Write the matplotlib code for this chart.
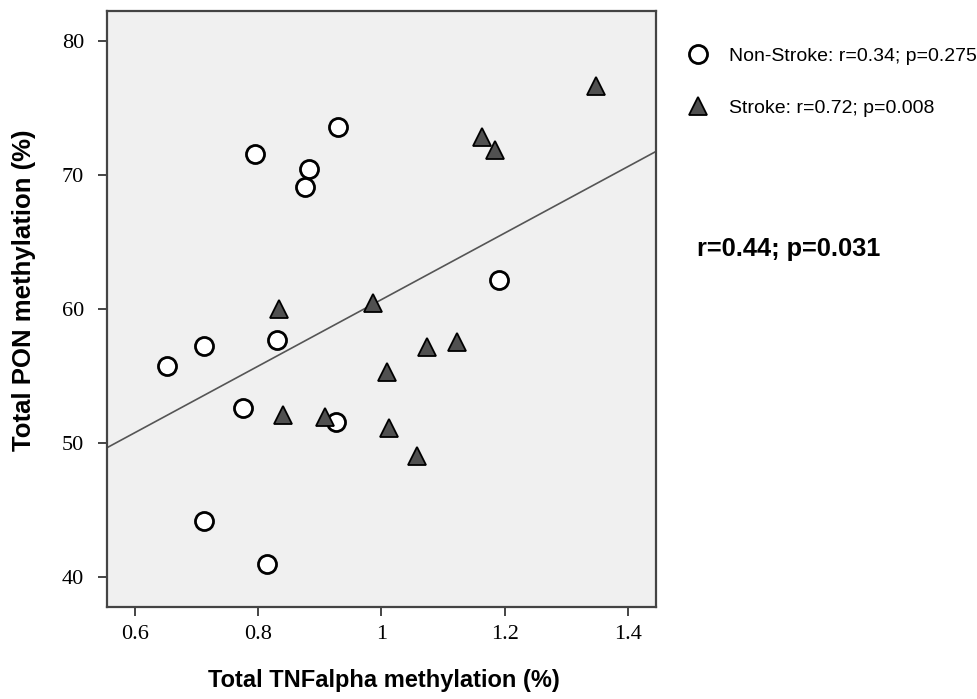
import numpy as np
import matplotlib
matplotlib.use("Agg")
import matplotlib.pyplot as plt

# values
nonstroke_x = [0.653, 0.712, 0.795, 0.882, 0.876, 0.930, 0.830, 0.776, 0.927, 0.712, 0.814, 1.190]
nonstroke_y = [55.72, 57.24, 71.54, 70.40, 69.10, 73.58, 57.66, 52.57, 51.57, 44.16, 40.95, 62.14]
stroke_x = [1.348, 1.164, 1.184, 0.834, 0.987, 1.123, 1.074, 1.009, 0.840, 0.908, 1.012, 1.057]
stroke_y = [76.62, 72.79, 71.84, 59.96, 60.45, 57.54, 57.12, 55.30, 52.07, 51.94, 51.12, 49.03]

x_ticks = [0.6, 0.8, 1.0, 1.2, 1.4]
x_tick_labels = ["0.6", "0.8", "1", "1.2", "1.4"]
y_ticks = [40, 50, 60, 70, 80]

nonstroke_label = "Non-Stroke: r=0.34; p=0.275"
stroke_label = "Stroke: r=0.72; p=0.008"
overall_text = "r=0.44; p=0.031"

sans = ["Liberation Sans", "DejaVu Sans"]
serif = ["Liberation Serif", "DejaVu Serif"]

fig = plt.figure(figsize=(9.78, 6.99), dpi=100)
ax = fig.add_axes([0.1094, 0.132, 0.5611, 0.8527])
ax.set_facecolor("#f0f0f0")

# fit line over all points
all_x = np.array(nonstroke_x + stroke_x)
all_y = np.array(nonstroke_y + stroke_y)
slope, intercept = np.polyfit(all_x, all_y, 1)
xlim = (0.555, 1.445)
line_x = np.array(xlim)
ax.plot(line_x, intercept + slope * line_x, color="#555555", lw=1.2, zorder=2)

ax.plot(nonstroke_x, nonstroke_y, ls="none", marker="o", ms=13, mfc="white",
        mec="black", mew=2.0, zorder=3, label=nonstroke_label)
ax.plot(stroke_x, stroke_y, ls="none", marker="^", ms=13, mfc="#505050",
        mec="black", mew=1.3, zorder=3, label=stroke_label)

ax.set_xlim(*xlim)
ax.set_ylim(37.76, 82.24)
ax.set_xticks(x_ticks)
ax.set_xticklabels(x_tick_labels)
ax.set_yticks(y_ticks)

for sp in ax.spines.values():
    sp.set_color("#444444")
    sp.set_linewidth(1.6)
ax.tick_params(axis="both", direction="out", length=6.5, width=1.4, color="#444444",
               labelsize=16)
ax.tick_params(axis="x", pad=7)
ax.tick_params(axis="y", pad=10)
for lab in ax.get_xticklabels() + ax.get_yticklabels():
    lab.set_family(serif)

ax.set_xlabel("Total TNFalpha methylation (%)", family=sans, fontweight="bold",
              fontsize=17, va="center")
ax.xaxis.set_label_coords(0.505, -0.123)
ax.set_ylabel("Total PON methylation (%)", family=sans, fontweight="bold",
              fontsize=18.5, va="center")
ax.yaxis.set_label_coords(-0.151, 0.531)

leg = ax.legend(loc="upper left", bbox_to_anchor=(689 / 978, 1 - 47 / 699),
                bbox_transform=fig.transFigure, frameon=False, borderpad=0,
                borderaxespad=0, handlelength=0.93, handletextpad=1.15,
                labelspacing=1.8, prop={"family": sans, "size": 14})

fig.text(697 / 978, 1 - 249 / 699, overall_text, family=sans, fontweight="bold",
         fontsize=18.3, va="center", ha="left")

fig.savefig("out.png", dpi=100, facecolor="white")
